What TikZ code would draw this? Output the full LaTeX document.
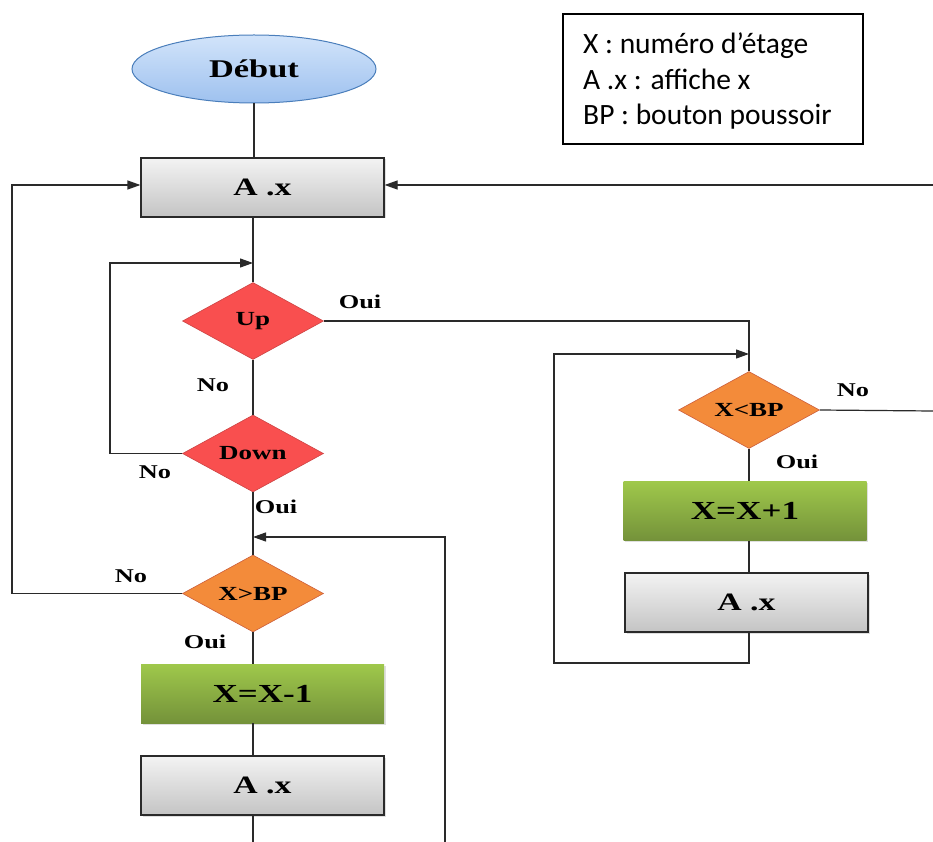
\documentclass[tikz,border=0pt]{standalone}
\usepackage{fontspec}
\usetikzlibrary{shapes.geometric,arrows.meta,shadows}
\newfontfamily\lblfont[FakeStretch=1.35]{Liberation Serif}
\newfontfamily\notefont{Carlito}
\definecolor{ellTop}{HTML}{D2E4FA}
\definecolor{ellBot}{HTML}{9EC1EF}
\definecolor{ellLine}{HTML}{4A7EBB}
\definecolor{boxTop}{HTML}{F3F3F3}
\definecolor{boxBot}{HTML}{C4C4C4}
\definecolor{redFill}{HTML}{F94F4F}
\definecolor{redLine}{HTML}{CC4444}
\definecolor{orgFill}{HTML}{F38B3A}
\definecolor{orgLine}{HTML}{CC5E3C}
\definecolor{grnTop}{HTML}{9FC84B}
\definecolor{grnBot}{HTML}{74923A}
\definecolor{wire}{HTML}{2A2A2A}
\tikzset{
  lbl/.style={font=\lblfont\bfseries\fontsize{19.5}{21}\selectfont},
  startnode/.style={ellipse, draw=ellLine, line width=1pt, top color=ellTop, bottom color=ellBot,
    minimum width=244pt, minimum height=68pt, inner sep=0pt,
    font=\lblfont\bfseries\fontsize{25.5}{27}\selectfont},
  showbox/.style={rectangle, draw=wire, line width=1.2pt, top color=boxTop, bottom color=boxBot,
    minimum width=243pt, minimum height=59pt, inner sep=0pt,
    drop shadow={opacity=0.25, shadow xshift=1.5pt, shadow yshift=-1.5pt},
    font=\lblfont\bfseries\fontsize{25}{27}\selectfont},
  calcbox/.style={rectangle, top color=grnTop, bottom color=grnBot,
    minimum width=243pt, minimum height=59pt, inner sep=0pt,
    drop shadow={opacity=0.25, shadow xshift=1.5pt, shadow yshift=-1.5pt},
    font=\lblfont\bfseries\fontsize{26}{28}\selectfont},
  dirtest/.style={diamond, aspect=1.8, fill=redFill, draw=redLine, line width=0.6pt,
    minimum width=141pt, minimum height=77pt, inner sep=0pt,
    font=\lblfont\bfseries\fontsize{20}{22}\selectfont},
  cmptest/.style={diamond, aspect=1.8, fill=orgFill, draw=orgLine, line width=0.6pt,
    minimum width=141pt, minimum height=77pt, inner sep=0pt,
    font=\lblfont\bfseries\fontsize{20}{22}\selectfont},
  wireline/.style={draw=wire, line width=1.2pt},
  flow/.style={wireline, -{Triangle[length=13pt,width=9pt]}},
}
\begin{document}
\begin{tikzpicture}[x=1pt,y=-1pt]
\useasboundingbox (0,0) rectangle (933,842);

% legend
\node[draw=black, line width=1.3pt, minimum width=300pt, minimum height=130pt, inner sep=0pt]
  (legend) at (713,79) {};
\node[anchor=north west, align=left, inner sep=0pt,
  font=\notefont\fontsize{29.5}{35.5}\selectfont] (legtext) at (583,33)
  {X : numéro d’étage\\A .x : affiche x\\BP : bouton poussoir};

% main column
\node[startnode] (deb) at (254,69) {Début};
\node[showbox] (ax1) at (262.5,187.5) {A .x};
\node[dirtest] (up) at (253,321) {Up};
\node[dirtest] (down) at (253,453.5) {Down};
\node[cmptest] (xg) at (253,593.5) {X>BP};
\node[calcbox] (g1) at (262.5,693.5) {X=X-1};
\node[showbox] (ax2) at (262.5,785.5) {A .x};

% right column
\node[cmptest] (xl) at (749,410) {X<BP};
\node[calcbox] (g2) at (745,511) {X=X+1};
\node[showbox] (ax3) at (746.5,602.5) {A .x};

% free ends at the picture border
\coordinate (botA) at (253,842);
\coordinate (botB) at (445,842);
\coordinate (rightIn) at (933,185);
\coordinate (rightOut) at (933,411);
\coordinate (upJoin) at (253,263);
\coordinate (cmpJoin) at (253,537);
\coordinate (xlJoin) at (749,354);

% spine
\draw[wireline] (deb.south) -- (deb.south |- ax1.north);
\draw[wireline] (up.north |- ax1.south) -- (up.north);
\draw[wireline] (up.south) -- (down.north);
\draw[wireline] (down.south) -- (xg.north);
\draw[wireline] (xg.south) -- (xg.south |- g1.north);
\draw[wireline] (xg.south |- g1.south) -- (xg.south |- ax2.north);
\draw[wireline] (xg.south |- ax2.south) -- (botA);

% loops of the main column
\draw[flow] (down.west) -- (110,453.5) -- (110,263) -- (upJoin);
\draw[flow] (xg.west) -- (12,593.5) -- (12,185) -- (ax1.west |- 0,185);
\draw[flow] (botB) -- (445,537) -- (cmpJoin);
\draw[flow] (rightIn) -- (ax1.east |- rightIn);

% branch to the right column
\draw[wireline] (up.east) -- (749,321) -- (xl.north);
\draw[wireline] (xl.east) -- (rightOut);
\draw[wireline] (xl.south) -- (xl.south |- g2.north);
\draw[wireline] (xl.south |- g2.south) -- (xl.south |- ax3.north);
\draw[flow] (xl.south |- ax3.south) -- (749,663) -- (554,663) -- (554,354) -- (xlJoin);

% branch labels
\node[lbl] (l1) at (360,302) {Oui};
\node[lbl] (l2) at (213,385) {No};
\node[lbl] (l3) at (155,472) {No};
\node[lbl] (l4) at (276,507) {Oui};
\node[lbl] (l5) at (131,576) {No};
\node[lbl] (l6) at (205,642) {Oui};
\node[lbl] (l7) at (853,390) {No};
\node[lbl] (l8) at (797,462) {Oui};
\end{tikzpicture}
\end{document}
